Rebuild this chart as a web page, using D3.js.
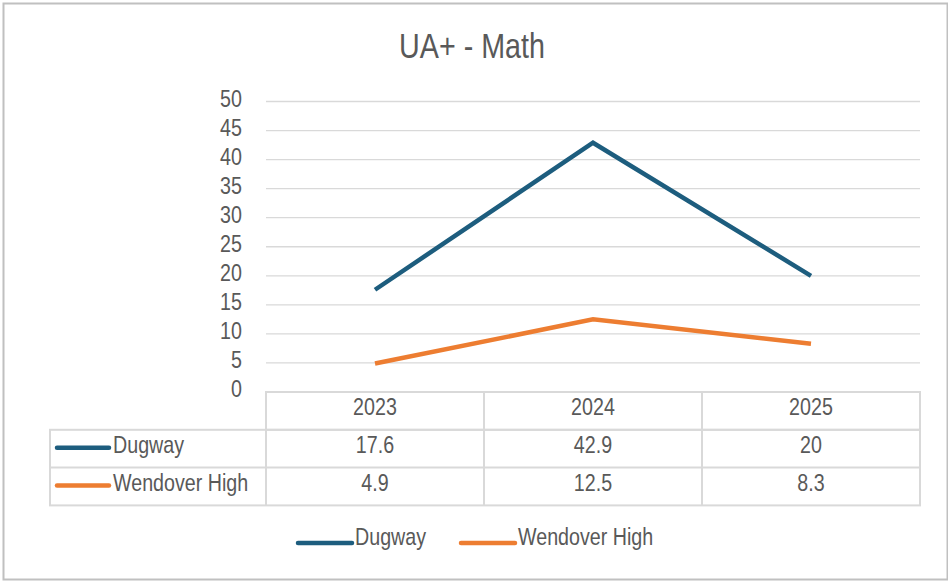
<!DOCTYPE html>
<html>
<head>
<meta charset="utf-8">
<script src="https://cdn.jsdelivr.net/npm/d3@7"></script>
<style>
body{margin:0;background:#fff}
text{font-family:"Liberation Sans",Arial,sans-serif;fill:#595959}
</style>
</head>
<body>
<svg></svg>
<script>
// 数据
var years = ['2023', '2024', '2025']
var dugway = [17.6, 42.9, 20]
var wendover = [4.9, 12.5, 8.3]
var seriesNames = ['Dugway', 'Wendover High']
var seriesColors = ['#1d5d7e', '#ed7d31']
var yTicks = [0, 5, 10, 15, 20, 25, 30, 35, 40, 45, 50]

var series = [dugway, wendover]
var narrow = 0.82 // 模拟 Arial Narrow

var svg = d3.select('svg')
.attr('width', 948)
.attr('height', 581)

// 窄体文字
function addText(x, y, str, size, anchor) {
  return svg.append('text')
  .attr('transform', 'translate(' + x + ',' + y + ') scale(' + narrow + ',1)')
  .attr('dy', '.35em')
  .attr('text-anchor', anchor || 'start')
  .style('font-size', size + 'px')
  .text(str)
}

// 外框
svg.append('rect')
.attr('x', 3.5).attr('y', 3.5)
.attr('width', 944).attr('height', 576)
.attr('fill', 'none')
.attr('stroke', '#c0c0c0')
.attr('stroke-width', 2)

// 比例尺
const x = d3.scaleBand()
.domain(years)
.range([266, 920])
const y = d3.scaleLinear()
.domain([0, 50])
.range([392, 101.5])

// 标题
addText(472, 46, 'UA+ - Math', 35, 'middle')

// 网格线
svg.append('g')
.selectAll('line')
.data(yTicks.filter(d => d > 0))
.enter()
.append('line')
.attr('x1', 266).attr('x2', 920)
.attr('y1', d => y(d)).attr('y2', d => y(d))
.attr('stroke', '#d9d9d9')
.attr('stroke-width', 1.3)

// Y 轴
const yAxis = d3.axisLeft(y).tickValues(yTicks).tickSize(0).tickPadding(0)
var gy = svg.append('g')
.attr('transform', 'translate(242,-3)')
.call(yAxis)
gy.select('.domain').remove()
gy.selectAll('text')
.attr('x', 0)
.attr('transform', 'scale(' + narrow + ',1)')
.style('font-size', '24px')
.style('fill', '#595959')
.style('font-family', '"Liberation Sans",Arial,sans-serif')

// 折线
const line = d3.line()
.x((d, i) => x(years[i]) + x.bandwidth() / 2)
.y(d => y(d))

svg.selectAll('path.series')
.data(series)
.enter()
.append('path')
.attr('class', 'series')
.attr('d', line)
.attr('fill', 'none')
.attr('stroke', (d, i) => seriesColors[i])
.attr('stroke-width', 4.5)
.attr('stroke-linejoin', 'miter')

// 数据表
var rowH = 37.8
var tableTop = 392
var grid = svg.append('g').attr('stroke', '#d9d9d9').attr('stroke-width', 2).attr('fill', 'none')
grid.append('rect').attr('x', 266).attr('y', tableTop).attr('width', 654).attr('height', rowH)
grid.append('rect').attr('x', 50).attr('y', tableTop + rowH).attr('width', 870).attr('height', rowH * 2)
grid.append('line').attr('x1', 50).attr('x2', 920).attr('y1', tableTop + rowH * 2).attr('y2', tableTop + rowH * 2)
grid.selectAll('line.v')
.data(years)
.enter()
.append('line')
.attr('class', 'v')
.attr('x1', d => x(d)).attr('x2', d => x(d))
.attr('y1', tableTop).attr('y2', tableTop + rowH * 3)

years.forEach(function (yr) {
  addText(x(yr) + x.bandwidth() / 2, tableTop + rowH / 2 - 4, yr, 24, 'middle')
})

series.forEach(function (s, i) {
  var cy = tableTop + rowH * (i + 1) + rowH / 2
  svg.append('line')
  .attr('x1', 57).attr('x2', 109)
  .attr('y1', cy - 1).attr('y2', cy - 1)
  .attr('stroke', seriesColors[i])
  .attr('stroke-width', 4.5)
  .attr('stroke-linecap', 'round')
  addText(113, cy - 4, seriesNames[i], 24)
  s.forEach(function (v, j) {
    addText(x(years[j]) + x.bandwidth() / 2, cy - 4, v, 24, 'middle')
  })
})

// 图例
var legendX = [298, 461]
seriesNames.forEach(function (name, i) {
  svg.append('line')
  .attr('x1', legendX[i]).attr('x2', legendX[i] + 54)
  .attr('y1', 543).attr('y2', 543)
  .attr('stroke', seriesColors[i])
  .attr('stroke-width', 4.5)
  .attr('stroke-linecap', 'round')
  addText(legendX[i] + 57, 537, name, 24)
})
</script>
</body>
</html>
